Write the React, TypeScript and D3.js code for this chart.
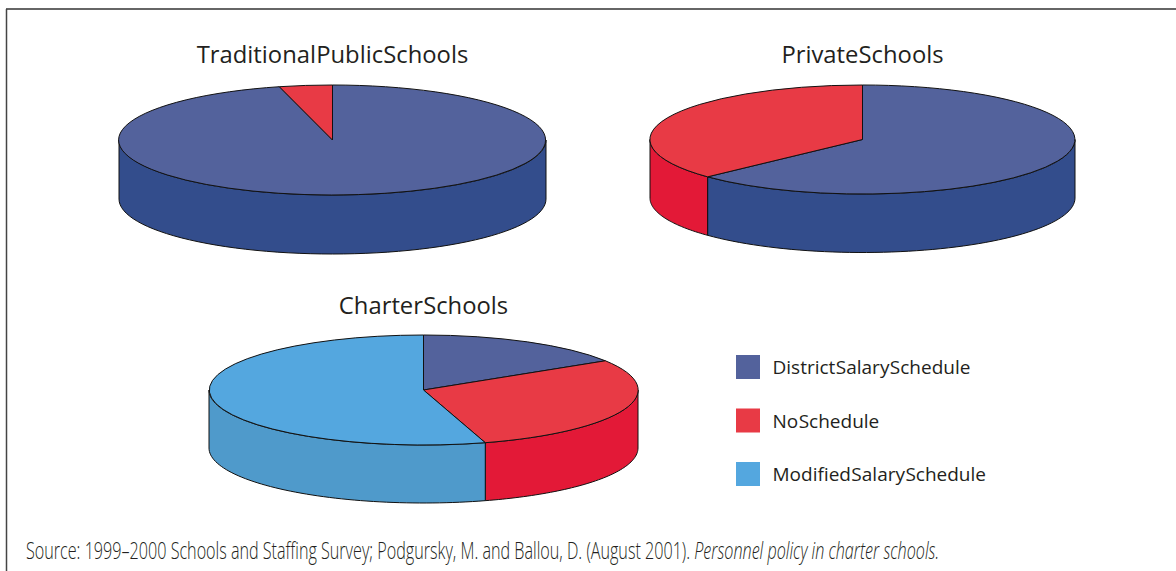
import React, { useLayoutEffect, useRef } from 'react';
import * as d3 from 'd3';

const categories = ['District Salary Schedule', 'No Schedule', 'Modified Salary Schedule'];
const topColors = ['#53629c', '#e83a45', '#54a7df'];
const sideColors = ['#334d8c', '#e31937', '#4f9acb'];

const pieTitles = ['Traditional Public Schools', 'Private Schools', 'Charter Schools'];
// shares in percent, clockwise from 12 o'clock, in drawing order
const pieValues = [
  [96, 4, 0],
  [63, 37, 0],
  [16.1, 29.25, 54.65],
];
const pieLayout = [
  { cx: 332.5, cy: 140, rx: 213.5, ry: 55, depth: 59, titleY: 63 },
  { cx: 862.5, cy: 139.5, rx: 212.5, ry: 54.5, depth: 58.5, titleY: 63 },
  { cx: 423.5, cy: 390, rx: 214.5, ry: 55, depth: 58, titleY: 314 },
];

const sourceText = 'Source: 1999–2000 Schools and Staffing Survey; Podgursky, M. and Ballou, D. (August 2001). ';
const sourceItalic = 'Personnel policy in charter schools.';
const SOURCE_WIDTH = 914;

const TITLE_FONT = '"Open Sans", "Noto Sans", sans-serif';

const pie = d3.pie<number>().sort(null).value(d => d);
const arc = d3.arc<d3.PieArcDatum<number>>().innerRadius(0).outerRadius(1);

const Pie3D: React.FC<{ values: number[]; title: string; layout: typeof pieLayout[number] }> = ({ values, title, layout }) => {
  const { cx, cy, rx, ry, depth, titleY } = layout;
  const slices = pie(values);

  // front wall of the disc: only the part between 3 and 9 o'clock can be seen
  const wall = d3.area<number>()
    .x(a => rx * Math.sin(a))
    .y0(a => -ry * Math.cos(a))
    .y1(a => -ry * Math.cos(a) + depth);

  return (
    <g transform={`translate(${cx},${cy})`}>
      <text y={titleY - cy} textAnchor="middle" fontFamily={TITLE_FONT} fontSize={23.8} fill="#231f20" style={{ wordSpacing: '-6px' }}>
        {title}
      </text>
      {slices.map((s, i) => {
        const a0 = Math.max(s.startAngle, Math.PI / 2);
        const a1 = Math.min(s.endAngle, Math.PI * 1.5);
        if (a1 <= a0) return null;
        const angles = d3.range(0, 61).map(k => a0 + ((a1 - a0) * k) / 60);
        return <path key={i} d={wall(angles) ?? ''} fill={sideColors[i]} stroke="#111" strokeWidth={1} />;
      })}
      {slices.map((s, i) =>
        s.value > 0 ? (
          <path
            key={i}
            d={arc(s) ?? ''}
            transform={`scale(${rx},${ry})`}
            fill={topColors[i]}
            stroke="#111"
            strokeWidth={1}
            vectorEffect="non-scaling-stroke"
          />
        ) : null
      )}
    </g>
  );
};

const legendY = d3.scalePoint<string>().domain(categories).range([367, 474]);

export default function App() {
  const sourceRef = useRef<SVGTextElement | null>(null);

  // the footer is set in a condensed face, so squeeze it to the measured width
  useLayoutEffect(() => {
    const el = sourceRef.current;
    if (!el) return;
    const sx = SOURCE_WIDTH / el.getComputedTextLength();
    el.setAttribute('transform', `translate(26,559) scale(${sx},1)`);
  }, []);

  return (
    <svg width={1176} height={571} style={{ position: 'absolute', left: 0, top: 0, background: '#fff' }}>
      <path d="M6,9H1176" fill="none" stroke="#666" strokeWidth={2} />
      <path d="M6.5,9V571" fill="none" stroke="#444" strokeWidth={1.5} />
      {pieValues.map((values, i) => (
        <Pie3D key={pieTitles[i]} values={values} title={pieTitles[i]} layout={pieLayout[i]} />
      ))}
      {categories.map((c, i) => (
        <g key={c} transform={`translate(736,${legendY(c)})`}>
          <rect x={0} y={-12} width={24} height={24} fill={topColors[i]} />
          <text x={36.5} y={7} fontFamily={TITLE_FONT} fontSize={19} fill="#231f20" style={{ wordSpacing: '-4.5px' }}>
            {c}
          </text>
        </g>
      ))}
      <text ref={sourceRef} transform="translate(26,559)" fontFamily={TITLE_FONT} fontWeight={300} fontSize={24} fill="#231f20">
        {sourceText}
        <tspan fontStyle="italic">{sourceItalic}</tspan>
      </text>
    </svg>
  );
}
